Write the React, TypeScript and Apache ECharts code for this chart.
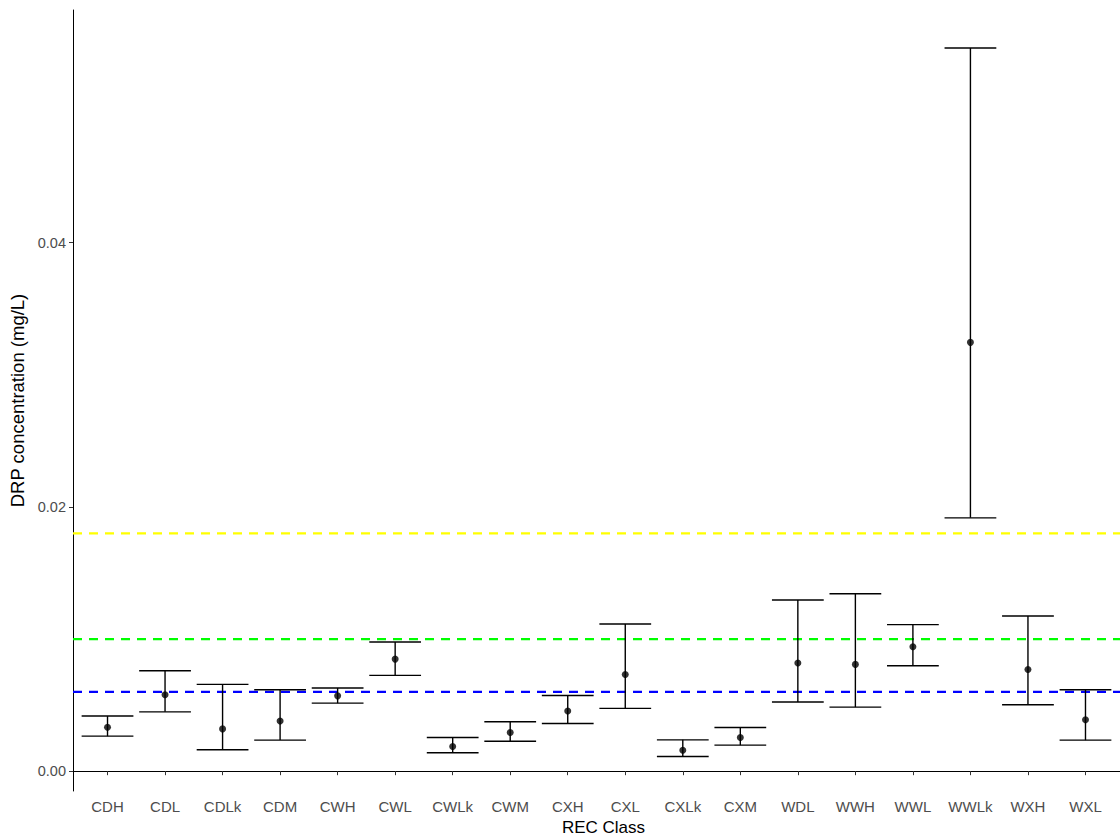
import React, { useEffect, useRef } from "react";
import * as echarts from "echarts";

const categories = ["CDH", "CDL", "CDLk", "CDM", "CWH", "CWL", "CWLk", "CWM", "CXH", "CXL", "CXLk", "CXM", "WDL", "WWH", "WWL", "WWLk", "WXH", "WXL"];
const means = [0.00333, 0.00578, 0.0032, 0.00379, 0.0057, 0.00848, 0.00187, 0.00293, 0.00455, 0.00732, 0.00159, 0.00255, 0.00818, 0.00808, 0.00942, 0.03245, 0.0077, 0.00389];
const lowers = [0.00265, 0.00449, 0.00162, 0.00235, 0.00515, 0.00725, 0.00139, 0.00227, 0.00361, 0.00475, 0.00111, 0.00197, 0.00523, 0.00485, 0.00798, 0.01917, 0.00503, 0.00235];
const uppers = [0.00417, 0.0076, 0.00657, 0.00616, 0.00629, 0.00977, 0.00255, 0.00374, 0.00573, 0.01114, 0.00237, 0.00331, 0.01295, 0.01343, 0.01109, 0.05472, 0.01174, 0.00616];
const yTicks = [0, 0.02, 0.04];
const refValues = [0.018, 0.01, 0.006];
const refColors = ["#FFFF00", "#00FF00", "#0000FF"];

const FONT = "Liberation Sans, Arial, sans-serif";

export default function App() {
  const ref = useRef<HTMLDivElement>(null);
  useEffect(() => {
    if (!ref.current) return;
    const chart = echarts.init(ref.current, null, { renderer: "svg" });
    const positions = categories.map((_, i) => i + 1);
    const errData = categories.map((_, i) => [i + 1, lowers[i], uppers[i]]);
    const pointData = categories.map((_, i) => [i + 1, means[i]]);
    const refData = refValues.map((v, i) => [1, v, i]);
    chart.setOption({
      animation: false,
      backgroundColor: "#ffffff",
      grid: { left: 73, right: 0, top: 10, bottom: 45, outerBoundsMode: "none", containLabel: false },
      xAxis: {
        type: "value",
        min: 0.4,
        max: 18.6,
        name: "REC Class",
        nameLocation: "middle",
        nameGap: 24,
        nameTextStyle: { color: "#000000", fontSize: 17, lineHeight: 18, fontFamily: FONT, padding: [0, 0, 0, 14] },
        axisLine: { show: true, lineStyle: { color: "#000000", width: 1 } },
        axisTick: { show: true, length: 4, customValues: positions, lineStyle: { color: "#333333" } },
        axisLabel: {
          customValues: positions,
          color: "#4D4D4D",
          fontSize: 15,
          fontFamily: FONT,
          margin: 8,
          formatter: (v: number) => categories[Math.round(v) - 1] ?? "",
        },
        splitLine: { show: false },
      },
      yAxis: {
        type: "value",
        min: -0.0015,
        max: 0.0576,
        name: "DRP concentration (mg/L)",
        nameLocation: "middle",
        nameGap: 44,
        nameTextStyle: { color: "#000000", fontSize: 18.5, fontFamily: FONT },
        axisLine: { show: true, lineStyle: { color: "#000000", width: 1 } },
        axisTick: { show: true, length: 4, customValues: yTicks, lineStyle: { color: "#333333" } },
        axisLabel: {
          customValues: yTicks,
          color: "#4D4D4D",
          fontSize: 14.5,
          fontFamily: FONT,
          margin: 7,
          formatter: (v: number) => v.toFixed(2),
        },
        splitLine: { show: false },
      },
      series: [
        {
          type: "custom",
          data: refData,
          silent: true,
          renderItem: (params: any, api: any) => {
            const v = api.value(1);
            const idx = api.value(2);
            const p = api.coord([1, v]);
            const cs = params.coordSys;
            return {
              type: "line",
              shape: { x1: cs.x, y1: p[1], x2: cs.x + cs.width, y2: p[1] },
              style: { stroke: refColors[idx], lineWidth: 2.2, lineDash: [9, 7] },
            };
          },
        },
        {
          type: "custom",
          data: errData,
          renderItem: (params: any, api: any) => {
            const x = api.value(0);
            const lo = api.value(1);
            const hi = api.value(2);
            const pHi = api.coord([x, hi]);
            const pLo = api.coord([x, lo]);
            const halfW = api.size([0.9, 0])[0] / 2;
            const style = { stroke: "#000000", lineWidth: 1.4 };
            return {
              type: "group",
              children: [
                { type: "line", shape: { x1: pHi[0], y1: pHi[1], x2: pLo[0], y2: pLo[1] }, style },
                { type: "line", shape: { x1: pHi[0] - halfW, y1: pHi[1], x2: pHi[0] + halfW, y2: pHi[1] }, style },
                { type: "line", shape: { x1: pLo[0] - halfW, y1: pLo[1], x2: pLo[0] + halfW, y2: pLo[1] }, style },
              ],
            };
          },
        },
        {
          type: "scatter",
          data: pointData,
          symbol: "circle",
          symbolSize: 7,
          itemStyle: { color: "#000000" },
        },
      ],
    });
    return () => chart.dispose();
  }, []);
  return (
    <div
      ref={ref}
      style={{ position: "fixed", left: 0, top: 0, width: 1120, height: 836, background: "#fff" }}
    />
  );
}
